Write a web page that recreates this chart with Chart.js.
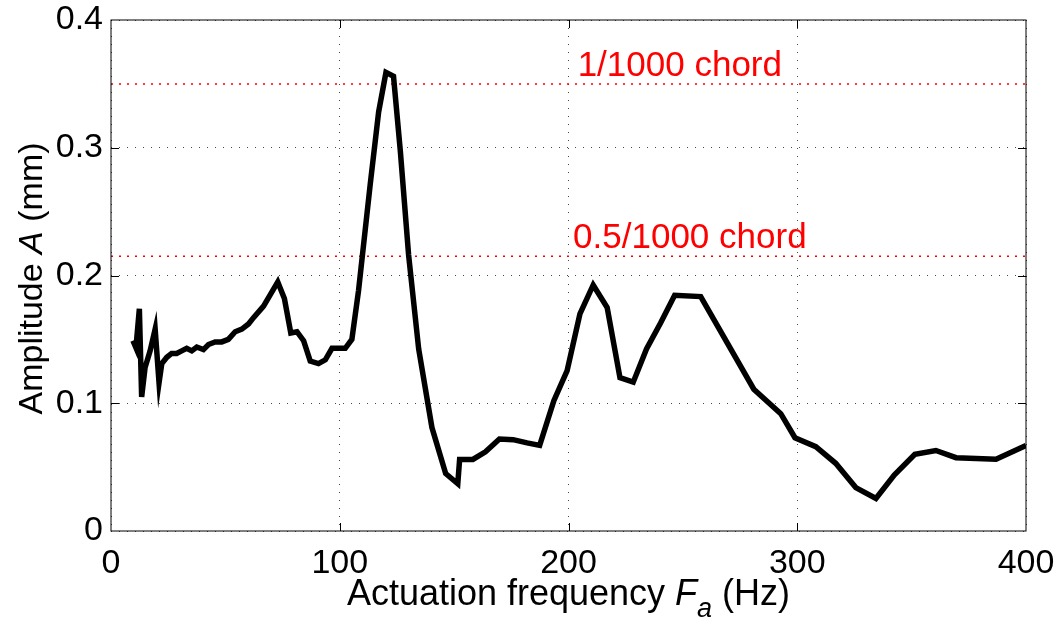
<!DOCTYPE html>
<html>
<head>
<meta charset="utf-8">
<script src="https://cdn.jsdelivr.net/npm/chart.js@4/dist/chart.umd.min.js"></script>
<style>
  body { margin: 0; background: #fff; }
  #wrap { width: 1059px; height: 626px; }
</style>
</head>
<body>
<div id="wrap"><canvas id="graficoAmp"></canvas></div>
<script>
const freq = [9.6, 10.9, 12.4, 13.4, 14.9, 17.1, 19.3, 21.0, 22.2, 24.4, 26.5, 28.7, 30.9, 33.1, 35.3,
  37.5, 40.4, 42.6, 45.5, 48.4, 51.3, 54.3, 57.2, 60.1, 62.3, 66.7, 72.9, 75.8, 78.6, 81.3,
  84.2, 87.1, 90.7, 93.7, 96.6, 102.4, 105.3, 108.2, 113.3, 117.0, 120.2, 123.5, 126.5, 130.1, 134.5,
  140.3, 146.3, 151.6, 152.4, 158.2, 163.7, 169.8, 175.8, 181.9, 187.4, 193.6, 199.4, 205.0, 210.8,
  216.9, 222.5, 228.3, 234.1, 240.3, 246.4, 257.8, 281.0, 292.8, 299.0, 308.1, 316.8, 325.6, 334.4,
  342.4, 351.4, 360.6, 369.4, 386.9, 400.0];
const amp = [0.149, 0.1435, 0.174, 0.105, 0.128, 0.141, 0.158, 0.116, 0.131, 0.136, 0.139, 0.139, 0.141, 0.143, 0.141,
  0.144, 0.142, 0.146, 0.148, 0.148, 0.150, 0.156, 0.158, 0.162, 0.167, 0.176, 0.195, 0.182, 0.155, 0.156,
  0.149, 0.133, 0.131, 0.134, 0.143, 0.143, 0.150, 0.188, 0.271, 0.328, 0.359, 0.356, 0.297, 0.216, 0.1425,
  0.081, 0.045, 0.037, 0.056, 0.056, 0.062, 0.072, 0.0715, 0.069, 0.067, 0.102, 0.1255, 0.170, 0.1926,
  0.175, 0.120, 0.1165, 0.1425, 0.163, 0.1845, 0.1835, 0.111, 0.0918, 0.073, 0.066, 0.053, 0.034, 0.0255,
  0.0437, 0.060, 0.063, 0.0574, 0.0561, 0.067];

// reference levels (chord fractions)
const refLevels = [0.35, 0.215];
const refLabels = ['1/1000 chord', '0.5/1000 chord'];
const refLabelFreq = [204, 202];

const xTicks = [0, 100, 200, 300, 400];
const yTicks = [0, 0.1, 0.2, 0.3, 0.4];

const FONT = '"Liberation Sans", Arial, Helvetica, sans-serif';

// box, inward tick marks, axis titles and the red labels
const decor = {
  id: 'decor',
  afterDraw(chart) {
    const { ctx, chartArea: a, scales } = chart;
    const x = scales.x, y = scales.y;
    ctx.save();
    ctx.strokeStyle = '#000';
    ctx.lineWidth = 1;
    ctx.strokeRect(a.left, a.top, a.right - a.left, a.bottom - a.top);
    const tl = 8;
    ctx.beginPath();
    xTicks.slice(1, -1).forEach(v => {
      const px = Math.round(x.getPixelForValue(v)) + 0.5;
      ctx.moveTo(px, a.bottom); ctx.lineTo(px, a.bottom - tl);
      ctx.moveTo(px, a.top); ctx.lineTo(px, a.top + tl);
    });
    yTicks.slice(1, -1).forEach(v => {
      const py = Math.round(y.getPixelForValue(v)) + 0.5;
      ctx.moveTo(a.left, py); ctx.lineTo(a.left + tl, py);
      ctx.moveTo(a.right, py); ctx.lineTo(a.right - tl, py);
    });
    ctx.stroke();

    // red labels
    ctx.fillStyle = '#ff0000';
    ctx.font = '35px ' + FONT;
    ctx.textAlign = 'left';
    ctx.textBaseline = 'alphabetic';
    refLevels.forEach((lv, i) => {
      ctx.fillText(refLabels[i], x.getPixelForValue(refLabelFreq[i]), y.getPixelForValue(lv) - 8);
    });

    // x title: Actuation frequency F_a (Hz)
    ctx.fillStyle = '#000';
    const parts = [
      { t: 'Actuation frequency ', f: '36px ' + FONT, dy: 0 },
      { t: 'F', f: 'italic 36px ' + FONT, dy: 0 },
      { t: 'a', f: 'italic 27px ' + FONT, dy: 12 },
      { t: ' (Hz)', f: '36px ' + FONT, dy: 0 }
    ];
    let w = 0;
    parts.forEach(p => { ctx.font = p.f; p.w = ctx.measureText(p.t).width; w += p.w; });
    let cx = (a.left + a.right) / 2 - w / 2;
    parts.forEach(p => {
      ctx.font = p.f;
      ctx.fillText(p.t, cx, 605 + p.dy);
      cx += p.w;
    });

    // y title: Amplitude A (mm)
    ctx.translate(42, (a.top + a.bottom) / 2 + 3);
    ctx.rotate(-Math.PI / 2);
    const yparts = [
      { t: 'Amplitude ', f: '34px ' + FONT },
      { t: 'A', f: 'italic 34px ' + FONT },
      { t: ' (mm)', f: '34px ' + FONT }
    ];
    w = 0;
    yparts.forEach(p => { ctx.font = p.f; p.w = ctx.measureText(p.t).width; w += p.w; });
    cx = -w / 2;
    yparts.forEach(p => {
      ctx.font = p.f;
      ctx.fillText(p.t, cx, 0);
      cx += p.w;
    });
    ctx.restore();
  }
};

const noPad = s => { s.paddingTop = 0; s.paddingBottom = 0; s.paddingLeft = 0; s.paddingRight = 0; };

const pts = freq.map((f, i) => ({ x: f, y: amp[i] }));
const refSets = refLevels.map(lv => ({
  data: [{ x: 0, y: lv }, { x: 400, y: lv }],
  borderColor: '#ff0000',
  borderWidth: 1.5,
  borderDash: [2, 6],
  pointRadius: 0,
  showLine: true,
  order: 2
}));

const ctx = document.getElementById('graficoAmp').getContext('2d');
new Chart(ctx, {
  type: 'scatter',
  data: {
    datasets: [
      {
        data: pts,
        borderColor: '#000',
        backgroundColor: '#000',
        borderWidth: 5.5,
        pointRadius: 0,
        showLine: true,
        tension: 0,
        order: 0
      },
      ...refSets
    ]
  },
  options: {
    responsive: true,
    maintainAspectRatio: false,
    animation: false,
    layout: { padding: { top: 20, right: 33, left: 0, bottom: 0 } },
    plugins: { legend: { display: false }, tooltip: { enabled: false } },
    scales: {
      x: {
        type: 'linear',
        min: 0, max: 400,
        afterBuildTicks: s => { s.ticks = xTicks.map(v => ({ value: v })); },
        afterFit: s => { s.height = 95; noPad(s); },
        ticks: { color: '#000', font: { family: FONT, size: 34 }, padding: 12, maxRotation: 0 },
        grid: { color: 'rgba(0,0,0,0.7)', lineWidth: 1, drawTicks: false },
        border: { display: false, dash: [1, 7] }
      },
      y: {
        type: 'linear',
        min: 0, max: 0.4,
        afterBuildTicks: s => { s.ticks = yTicks.map(v => ({ value: v })); },
        afterFit: s => { s.width = 111; noPad(s); },
        ticks: { color: '#000', font: { family: FONT, size: 34 }, padding: 8,
          callback: v => (v === 0 ? '0' : v.toFixed(1)) },
        grid: { color: 'rgba(0,0,0,0.7)', lineWidth: 1, drawTicks: false },
        border: { display: false, dash: [1, 7] }
      }
    }
  },
  plugins: [decor]
});
</script>
</body>
</html>
